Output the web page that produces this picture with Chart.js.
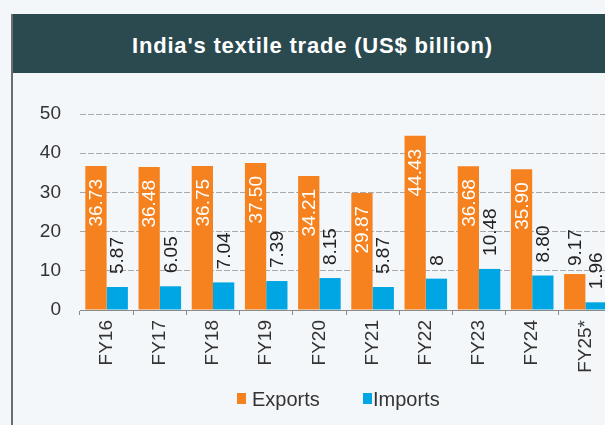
<!DOCTYPE html>
<html>
<head>
<meta charset="utf-8">
<script src="https://cdn.jsdelivr.net/npm/chart.js@4.4.1/dist/chart.umd.min.js"></script>
<style>
  html, body { margin: 0; padding: 0; width: 605px; height: 425px; overflow: hidden; background: #f3f7fa; }
  #frameLine { position: absolute; left: 11px; top: 14px; width: 2px; height: 411px; background: #6a6e70; }
  #header { position: absolute; left: 11px; top: 14px; width: 700px; height: 59px; background: #2a4a50; }
  #title { position: absolute; left: 11px; top: 16px; width: 603px; height: 59px; text-align: center;
           color: #ffffff; font: bold 22px "Liberation Sans", Arial, sans-serif; line-height: 59px; letter-spacing: 0.8px; white-space: nowrap; }
  #chartWrap { position: absolute; left: 12px; top: 73px; width: 660px; height: 352px; }
  .lg-box { position: absolute; width: 9px; height: 11px; top: 393px; }
  .lg-text { position: absolute; top: 389px; font: 20px "Liberation Sans", Arial, sans-serif; line-height: 20px; color: #333; white-space: nowrap; }
</style>
</head>
<body>
<div id="header"></div>
<div id="frameLine"></div>
<div id="title">India's textile trade (US$ billion)</div>
<div id="chartWrap"><canvas id="c" width="660" height="352"></canvas></div>
<div id="legend"></div>
<script>
const categories = ['FY16', 'FY17', 'FY18', 'FY19', 'FY20', 'FY21', 'FY22', 'FY23', 'FY24', 'FY25*'];
const exportsValues = [36.73, 36.48, 36.75, 37.50, 34.21, 29.87, 44.43, 36.68, 35.90, 9.17];
const importsValues = [5.87, 6.05, 7.04, 7.39, 8.15, 5.87, 8, 10.48, 8.80, 1.96];
const exportsLabels = ['36.73', '36.48', '36.75', '37.50', '34.21', '29.87', '44.43', '36.68', '35.90', '9.17'];
const importsLabels = ['5.87', '6.05', '7.04', '7.39', '8.15', '5.87', '8', '10.48', '8.80', '1.96'];
const yTicks = [0, 10, 20, 30, 40, 50];
const seriesNames = ['Exports', 'Imports'];
const seriesColors = ['#f5821f', '#00a6e4'];

const FONT = '"Liberation Sans", Arial, sans-serif';

const barLabelPlugin = {
  id: 'barLabels',
  afterDatasetsDraw(chart) {
    const ctx = chart.ctx;
    ctx.save();
    ctx.font = '19px ' + FONT;
    ctx.textBaseline = 'middle';
    chart.data.datasets.forEach((ds, di) => {
      const meta = chart.getDatasetMeta(di);
      meta.data.forEach((bar, i) => {
        const txt = ds.labelTexts[i];
        const w = ctx.measureText(txt).width;
        const h = bar.base - bar.y;
        ctx.save();
        if (di === 0 && h > w + 24) {
          ctx.translate(bar.x, bar.y + 13);
          ctx.rotate(-Math.PI / 2);
          ctx.textAlign = 'right';
          ctx.fillStyle = '#ffffff';
          ctx.fillText(txt, 0, 1);
        } else {
          const gap = di === 0 ? 8 : 13;
          ctx.translate(bar.x, bar.y - gap);
          ctx.rotate(-Math.PI / 2);
          ctx.textAlign = 'left';
          ctx.fillStyle = '#222222';
          ctx.fillText(txt, 0, 1);
        }
        ctx.restore();
      });
    });
    ctx.restore();
  }
};

new Chart(document.getElementById('c'), {
  type: 'bar',
  data: {
    labels: categories,
    datasets: [
      { label: seriesNames[0], data: exportsValues, labelTexts: exportsLabels, backgroundColor: seriesColors[0], borderWidth: 0 },
      { label: seriesNames[1], data: importsValues, labelTexts: importsLabels, backgroundColor: seriesColors[1], borderWidth: 0 }
    ]
  },
  options: {
    responsive: false,
    animation: false,
    events: [],
    layout: { padding: { left: 0, top: 41, right: 60, bottom: 40 } },
    datasets: { bar: { categoryPercentage: 0.8, barPercentage: 1.0 } },
    plugins: {
      legend: { display: false },
      tooltip: { enabled: false },
      title: { display: false }
    },
    scales: {
      x: {
        afterFit(scale) { scale.height = 75; },
        grid: { display: true, drawOnChartArea: false, drawTicks: true, tickLength: 5, color: '#8a8a8a', offset: true },
        border: { display: true, color: '#8a8a8a', width: 1 },
        ticks: {
          minRotation: 90, maxRotation: 90, autoSkip: false, padding: 5,
          color: '#333333', font: { family: FONT, size: 19 }
        }
      },
      y: {
        min: 0, max: 50,
        afterFit(scale) { scale.width = 68; },
        afterBuildTicks(scale) { scale.ticks = yTicks.map(v => ({ value: v })); },
        grid: { display: true, drawTicks: false, color: '#a9a9a9', lineWidth: 1 },
        border: { display: false, dash: [6, 2] },
        ticks: { padding: 19, color: '#333333', font: { family: FONT, size: 19 } }
      }
    }
  },
  plugins: [barLabelPlugin]
});

// legend built from series names and colours
const legendPos = [{ box: 237, text: 252 }, { box: 363, text: 373 }];
const lg = document.getElementById('legend');
seriesNames.forEach((name, i) => {
  const b = document.createElement('div');
  b.className = 'lg-box';
  b.style.left = legendPos[i].box + 'px';
  b.style.background = seriesColors[i];
  lg.appendChild(b);
  const t = document.createElement('div');
  t.className = 'lg-text';
  t.style.left = legendPos[i].text + 'px';
  t.textContent = name;
  lg.appendChild(t);
});
</script>
</body>
</html>
